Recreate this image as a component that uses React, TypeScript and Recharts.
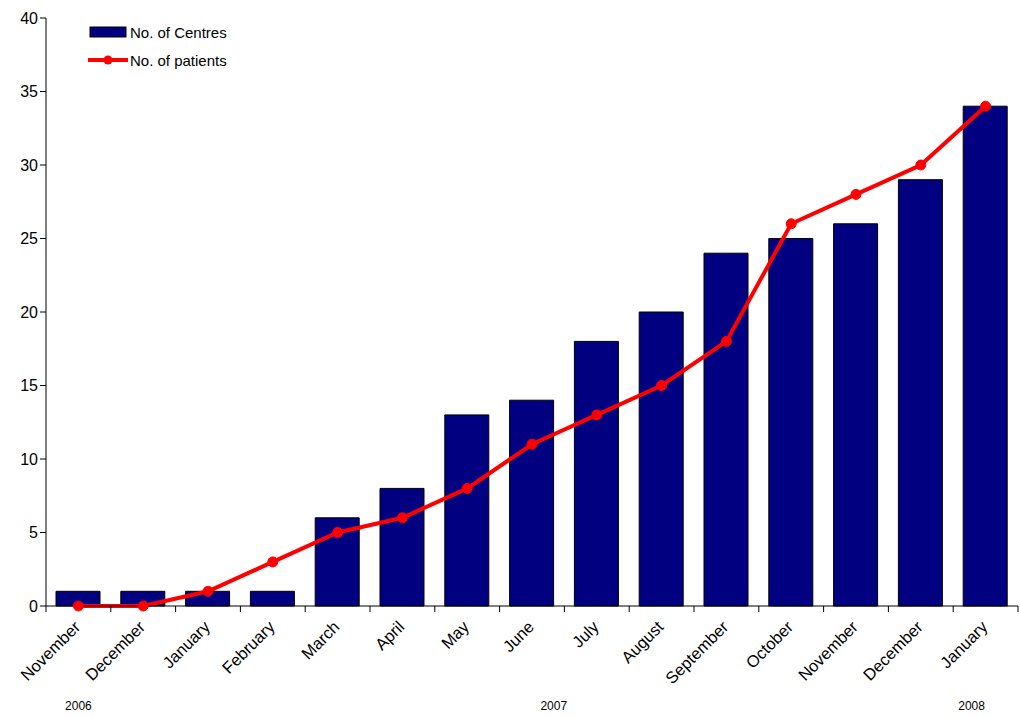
import React from 'react'
import {
  ComposedChart,
  Bar,
  Line,
  XAxis,
  YAxis,
} from 'recharts'

const MONTHS = [
  'November', 'December', 'January', 'February', 'March', 'April', 'May', 'June',
  'July', 'August', 'September', 'October', 'November', 'December', 'January',
]
const YEARS = ['2006', '', '', '', '', '', '', '', '2007', '', '', '', '', '', '2008']
const CENTRES = [1, 1, 1, 1, 6, 8, 13, 14, 18, 20, 24, 25, 26, 29, 34]
const PATIENTS = [0, 0, 1, 3, 5, 6, 8, 11, 13, 15, 18, 26, 28, 30, 34]
const Y_TICKS = [0, 5, 10, 15, 20, 25, 30, 35, 40]

const data = MONTHS.map((m, i) => ({
  key: `${m}-${i}`,
  month: m,
  year: YEARS[i],
  centres: CENTRES[i],
  patients: PATIENTS[i],
}))

const FONT = '"Liberation Sans", Arial, sans-serif'
const BAND = (1018 - 46) / MONTHS.length

function MonthTick({ x, y, payload, index }: any) {
  const label = MONTHS[payload.index ?? index]
  return (
    <g>
      {index === 0 && (
        <line x1={x - BAND / 2} y1={y - 8} x2={x - BAND / 2} y2={y - 2} stroke="#000" />
      )}
      <line x1={x + BAND / 2} y1={y - 8} x2={x + BAND / 2} y2={y - 2} stroke="#000" />
      <text
        x={x + 3}
        y={y + 14}
        transform={`rotate(-45 ${x + 3} ${y + 14})`}
        textAnchor="end"
        fontFamily={FONT}
        fontSize={16.5}
        fill="#000"
      >
        {label}
      </text>
    </g>
  )
}

function YearTick({ x, y, payload, index }: any) {
  const label = YEARS[payload.index ?? index]
  if (!label) return null
  const shift = label === '2007' ? -43 : label === '2008' ? -14 : 0
  return (
    <text x={x + shift} y={y + 18} textAnchor="middle" fontFamily={FONT} fontSize={12} fill="#000">
      {label}
    </text>
  )
}

function LegendBox() {
  return (
    <div
      style={{
        position: 'absolute',
        left: 88,
        top: 18,
        fontFamily: FONT,
        fontSize: 15,
        color: '#000',
      }}
    >
      <div style={{ display: 'flex', alignItems: 'center', height: 28 }}>
        <svg width={42} height={12}>
          <rect x={2} y={1} width={36} height={10} fill="#000080" stroke="#000" />
        </svg>
        <span>No. of Centres</span>
      </div>
      <div style={{ display: 'flex', alignItems: 'center', height: 28 }}>
        <svg width={42} height={12}>
          <line x1={0} y1={6} x2={40} y2={6} stroke="#ff0000" strokeWidth={4} />
          <circle cx={20} cy={6} r={4.5} fill="#ff0000" />
        </svg>
        <span>No. of patients</span>
      </div>
    </div>
  )
}

export default function App() {
  return (
    <div style={{ position: 'absolute', left: 0, top: 0, width: 1020, height: 718, background: '#fff' }}>
      <ComposedChart
        width={1020}
        height={718}
        data={data}
        margin={{ top: 18, right: 2, left: 0, bottom: 0 }}
      >
        <XAxis
          xAxisId="m"
          dataKey="key"
          interval={0}
          height={78}
          axisLine={{ stroke: '#000' }}
          tickLine={false}
          tick={<MonthTick />}
        />
        <XAxis
          xAxisId="y"
          dataKey="key"
          interval={0}
          height={34}
          axisLine={false}
          tickLine={false}
          tick={<YearTick />}
        />
        <YAxis
          domain={[0, 40]}
          ticks={Y_TICKS}
          width={46}
          interval={0}
          axisLine={{ stroke: '#000' }}
          tickLine={{ stroke: '#000' }}
          tickSize={6}
          tick={{ fill: '#000', fontSize: 16, fontFamily: FONT }}
        />
        <Bar
          xAxisId="m"
          dataKey="centres"
          name="No. of Centres"
          fill="#000080"
          stroke="#000"
          strokeWidth={1}
          barSize={44}
          isAnimationActive={false}
        />
        <Line
          xAxisId="m"
          dataKey="patients"
          name="No. of patients"
          stroke="#ff0000"
          strokeWidth={4}
          dot={{ r: 5, fill: '#ff0000', stroke: '#ff0000', strokeWidth: 1 }}
          activeDot={false}
          isAnimationActive={false}
        />
      </ComposedChart>
      <LegendBox />
    </div>
  )
}
